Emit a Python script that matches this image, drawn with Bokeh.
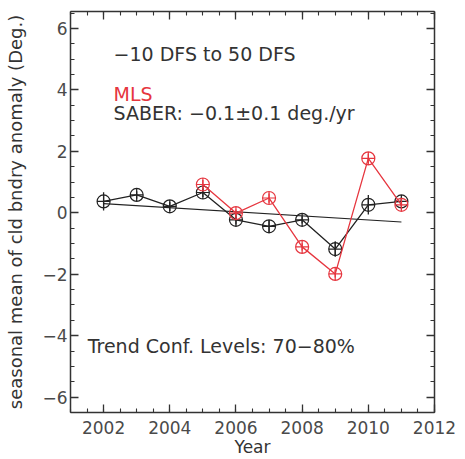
from bokeh.plotting import figure
from bokeh.models import LinearAxis, SingleIntervalTicker, CustomJSTickFormatter, Range1d, Label
from bokeh.embed import file_html
from bokeh.resources import INLINE

# ---- data ----
saber_years = [2002, 2003, 2004, 2005, 2006, 2007, 2008, 2009, 2010, 2011]
saber_vals = [0.37, 0.58, 0.21, 0.66, -0.23, -0.44, -0.23, -1.18, 0.26, 0.37]
saber_err = [0.30, 0.12, 0.15, 0.15, 0.15, 0.20, 0.12, 0.25, 0.32, 0.15]

mls_years = [2005, 2006, 2007, 2008, 2009, 2010, 2011]
mls_vals = [0.92, -0.01, 0.48, -1.11, -1.99, 1.77, 0.26]
mls_err = [0.15, 0.12, 0.15, 0.12, 0.12, 0.15, 0.15]

trend_years = [2002, 2011]
trend_vals = [0.30, -0.30]

title_text = "\u221210 DFS to 50 DFS"
mls_text = "MLS"
saber_text = "SABER: \u22120.1\u00b10.1 deg./yr"
conf_text = "Trend Conf. Levels: 70\u221280%"
x_label = "Year"
y_label = "seasonal mean of cld bndry anomaly (Deg.)"

FONT = "DejaVu Sans"
BLACK = "#222222"
RED = "#e6363f"
TXT = "#333333"

p = figure(width=465, height=459, output_backend="svg", toolbar_location=None,
           x_range=Range1d(2001, 2012), y_range=Range1d(-6.5, 6.55),
           min_border_left=70, min_border_right=31, min_border_top=11, min_border_bottom=46)
p.grid.visible = False
p.outline_line_color = None
p.background_fill_color = "white"
p.border_fill_color = "white"

fmt = CustomJSTickFormatter(code="return (tick < 0 ? '\u2212' : '') + Math.abs(tick).toFixed(0);")
blank = CustomJSTickFormatter(code="return '';")

def style(ax):
    ax.axis_line_color = "#333333"
    ax.axis_line_width = 1.5
    ax.major_tick_line_color = "#333333"
    ax.minor_tick_line_color = "#333333"
    ax.major_tick_line_width = 1.3
    ax.minor_tick_line_width = 1.1
    ax.major_tick_in = 8
    ax.major_tick_out = 0
    ax.minor_tick_in = 4
    ax.minor_tick_out = 0
    ax.major_label_text_font = FONT
    ax.major_label_text_color = "#4a4a4a"
    ax.major_label_text_font_size = "17px"
    ax.axis_label_text_font = FONT
    ax.axis_label_text_color = TXT
    ax.axis_label_text_font_size = "18px"
    ax.axis_label_text_font_style = "normal"

p.xaxis.ticker = SingleIntervalTicker(interval=2, num_minor_ticks=4)
p.yaxis.ticker = SingleIntervalTicker(interval=2, num_minor_ticks=4)
p.yaxis.formatter = fmt
for ax in p.xaxis:
    style(ax)
    ax.major_label_standoff = 8
    ax.axis_label = x_label
    ax.axis_label_text_font_size = "17px"
    ax.axis_label_standoff = 0
for ax in p.yaxis:
    style(ax)
    ax.major_label_standoff = 3
    ax.axis_label = y_label
    ax.axis_label_standoff = 13

top = LinearAxis(ticker=SingleIntervalTicker(interval=2, num_minor_ticks=4), formatter=blank)
style(top)
top.major_label_standoff = 0
p.add_layout(top, "above")
right = LinearAxis(ticker=SingleIntervalTicker(interval=2, num_minor_ticks=4), formatter=blank)
style(right)
right.major_label_standoff = 0
p.add_layout(right, "right")

# trend line
p.line(trend_years, trend_vals, line_color=BLACK, line_width=1.2)

# SABER
p.line(saber_years, saber_vals, line_color=BLACK, line_width=1.3)
p.segment(x0=saber_years, y0=[v - e for v, e in zip(saber_vals, saber_err)],
          x1=saber_years, y1=[v + e for v, e in zip(saber_vals, saber_err)],
          line_color=BLACK, line_width=1.3)
p.scatter(saber_years, saber_vals, marker="circle_cross", size=13,
          fill_color=None, line_color=BLACK, line_width=1.2)

# MLS
p.line(mls_years, mls_vals, line_color=RED, line_width=1.3)
p.segment(x0=mls_years, y0=[v - e for v, e in zip(mls_vals, mls_err)],
          x1=mls_years, y1=[v + e for v, e in zip(mls_vals, mls_err)],
          line_color=RED, line_width=1.3)
p.scatter(mls_years, mls_vals, marker="circle_cross", size=13,
          fill_color=None, line_color=RED, line_width=1.2)

# annotations
def lab(x, y, t, color=TXT, size="19px"):
    p.add_layout(Label(x=x, y=y, text=t, text_font=FONT, text_font_size=size,
                       text_color=color, text_baseline="middle", text_align="left"))

lab(2002.3, 5.16, title_text)
lab(2002.3, 3.87, mls_text, RED)
lab(2002.3, 3.25, saber_text)
lab(2001.52, -4.32, conf_text)

open("out.html", "w").write(file_html(p, INLINE))
